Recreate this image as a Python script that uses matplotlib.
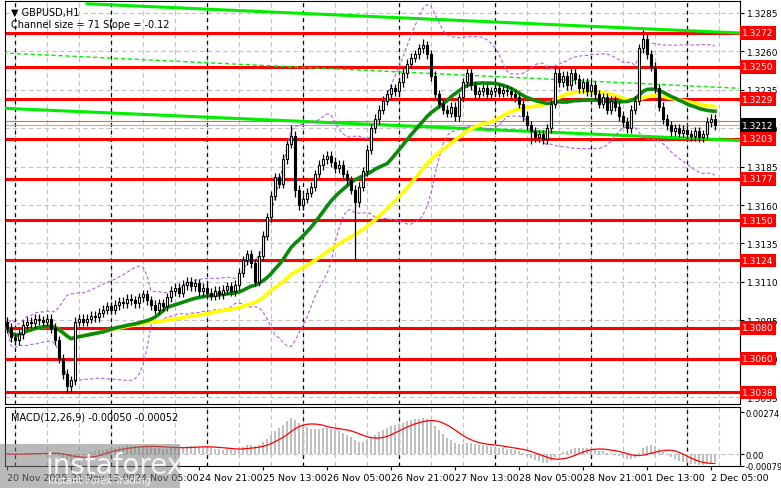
import numpy as np
import pandas as pd
import matplotlib
matplotlib.use("Agg")
import matplotlib.pyplot as plt
from matplotlib.transforms import blended_transform_factory as btf

# closes in pips above 1.3000
close_pips = [80,74,72,76,82, 84,83,86,85,84, 86,80,72,60,50, 42,46,84,86,84,
              86,88,87,90,92, 94,92,95,97,96, 99,98,96,100,102, 98,95,92,96,94,
              100,104,106,103,108, 110,107,109,104,106, 103,101,104,102,105,
              107,104,108,116,124, 128,122,110,127,140, 152,166,178,174,190,
              200,205,170,160,164, 168,172,180,186,190, 192,188,184,186,180,
              176,170,162,172,182, 196,210,216,222,228, 232,236,234,240,246,
              252,256,258,262,264, 258,244,232,226,222, 220,224,218,230,240,
              246,238,232,234,236, 232,234,236,233,235, 234,232,230,226,218,
              212,208,204,206,203, 210,226,246,240,244, 238,246,242,236,240,
              234,238,232,226,230, 222,228,224,218,214, 210,222,228,262,268,
              258,250,236,224,216, 212,208,210,207,209, 206,205,208,204,206,
              214,216,212]
wick_pips = 3
high_over = {71: 212, 104: 268, 159: 274, 99: 250, 137: 250}
low_over = {15: 38, 87: 124, 131: 200, 72: 165}

levels = [1.3272, 1.3250, 1.3229, 1.3203, 1.3177, 1.3150, 1.3124, 1.3080, 1.3060, 1.3038]
price_ticks = [1.3285, 1.3260, 1.3235, 1.3210, 1.3185, 1.3160, 1.3135, 1.3110, 1.3085, 1.3060, 1.3035]
upper_ch = ([20, 183], [1.3291, 1.3272])
mid_ch = ([-1, 183], [1.3259, 1.3236])
low_ch = ([-1, 183], [1.3223, 1.3202])
time_labels = ["20 Nov 2025", "21 Nov 13:00", "24 Nov 05:00", "24 Nov 21:00", "25 Nov 13:00",
               "26 Nov 05:00", "26 Nov 21:00", "27 Nov 13:00", "28 Nov 05:00", "28 Nov 21:00",
               "1 Dec 13:00", "2 Dec 05:00"]

c = 1.3 + np.array(close_pips) / 10000.0
n = len(c)
o = np.concatenate([[c[0] + 0.0004], c[:-1]])
hi = np.maximum(o, c) + wick_pips / 10000
lo = np.minimum(o, c) - wick_pips / 10000
for k, v in high_over.items():
    hi[k] = 1.3 + v / 10000
for k, v in low_over.items():
    lo[k] = 1.3 + v / 10000
x = np.arange(n)
s = pd.Series(c)
ma_fast = s.rolling(24, min_periods=1).mean()
ma_slow = s.rolling(50, min_periods=1).mean()
bm = s.rolling(20, min_periods=1).mean()
bs = s.rolling(20, min_periods=2).std().fillna(0)
macd = s.ewm(span=12).mean() - s.ewm(span=26).mean()
sig = macd.rolling(9, min_periods=1).mean()

W, H = 781, 489
fig = plt.figure(figsize=(W/100, H/100), dpi=100)
ax = fig.add_axes([5/W, 1-405/H, 735/W, 403/H])
axm = fig.add_axes([5/W, 1-467/H, 735/W, 59/H], sharex=ax)
ax.set_xlim(-0.5, 183.25)
ax.set_ylim(1.30305, 1.32928)
axm.set_ylim(-0.00079, 0.0031)

for a in (ax, axm):
    for xx in np.arange(2, 184, 8):
        a.axvline(xx, color="#c0c0c0", ls=(0, (4, 3)), lw=0.8, zorder=0)
    for xx in np.arange(2, 184, 24):
        a.axvline(xx, color="black", ls=(0, (3, 3)), lw=0.9, zorder=0.5)
for p in price_ticks:
    ax.axhline(p, color="#c0c0c0", ls=(0, (4, 3)), lw=0.8, zorder=0)
axm.axhline(0, color="#c0c0c0", ls=(0, (4, 3)), lw=0.8, zorder=0)

for lv in levels:
    ax.axhline(lv, color="#ff0000", lw=2.2, zorder=2)
ax.axhline(1.3215, color="#ff6a00", lw=0.8, zorder=2)
ax.axhline(1.3212, color="#b0b0b0", lw=0.8, zorder=2)

ax.plot(*upper_ch, color="#00ee00", lw=2.2, zorder=3)
ax.plot(*mid_ch, color="#00ee00", lw=1, ls=(0, (3, 2)), zorder=3)
ax.plot(*low_ch, color="#00ee00", lw=2.2, zorder=3)

ax.plot(x, bm + 2*bs, color="#b45fd8", lw=0.8, ls=(0, (3, 2)), zorder=3)
ax.plot(x, bm - 2*bs, color="#b45fd8", lw=0.8, ls=(0, (3, 2)), zorder=3)
ax.plot(x, ma_slow, color="#ffff00", lw=2.6, zorder=4)
ax.plot(x, ma_fast, color="#0a8a0a", lw=2.6, zorder=4)

for i in range(n):
    ax.vlines(i, lo[i], hi[i], color="black", lw=0.9, zorder=5)
    b0, b1 = min(o[i], c[i]), max(o[i], c[i])
    fc = "white" if c[i] >= o[i] else "black"
    ax.bar(i, max(b1 - b0, 0.00004), bottom=b0, width=0.6, color=fc, edgecolor="black", lw=0.8, zorder=6)

axm.bar(x, macd, width=0.6, color="#c0c0c0", zorder=2)
axm.plot(x, sig, color="#ff0000", lw=0.9, zorder=3)

for a in (ax, axm):
    a.yaxis.tick_right()
    a.tick_params(axis="y", labelsize=6.5, length=3, pad=2)
    for sp in a.spines.values():
        sp.set_color("black"); sp.set_linewidth(0.8)
ax.set_yticks(price_ticks)
ax.set_yticklabels([f"{p:.4f}" for p in price_ticks])
ax.tick_params(axis="x", bottom=False, labelbottom=False)
axm.set_yticks([0.00274, 0.0, -0.00079])
axm.set_yticklabels(["0.00274", "0.00", "-0.00079"])
axm.tick_params(axis="y", labelsize=6, pad=1)
axm.set_xticks(np.arange(0, 184, 16))
axm.set_xticklabels(time_labels, ha="left", fontsize=6.8)
axm.tick_params(axis="x", length=3, pad=2)

tr = btf(ax.transAxes, ax.transData)
for lv in levels:
    ax.text(1.003, lv, f"{lv:.4f}", transform=tr, color="white", fontsize=6.5, va="center", ha="left",
            bbox=dict(boxstyle="square,pad=0.25", fc="#ff0000", ec="none"), zorder=10, clip_on=False)
ax.text(1.003, 1.3212, "1.3212", transform=tr, color="white", fontsize=6.5, va="center", ha="left",
        bbox=dict(boxstyle="square,pad=0.25", fc="black", ec="none"), zorder=11, clip_on=False)

ax.text(0.008, 0.985, "▼ GBPUSD,H1", transform=ax.transAxes, fontsize=7, va="top")
ax.text(0.008, 0.955, "Channel size = 71 Slope = -0.12", transform=ax.transAxes, fontsize=7, va="top")
axm.text(0.008, 0.93, "MACD(12,26,9) -0.00050 -0.00052", transform=axm.transAxes, fontsize=7, va="top")

fig.patches.append(plt.Rectangle((0, 0), 180/W, 1-445/H, transform=fig.transFigure,
                                 fc="#808080", alpha=0.55, ec="none", zorder=20))
fig.text(45/W, 1-466/H, "instaforex", fontsize=20, color="white", alpha=0.85, va="center", zorder=21)
fig.text(48/W, 1-481/H, "Instant Forex Trading", fontsize=7, color="white", alpha=0.85, va="center", zorder=21)

fig.savefig("out.png", dpi=100)
